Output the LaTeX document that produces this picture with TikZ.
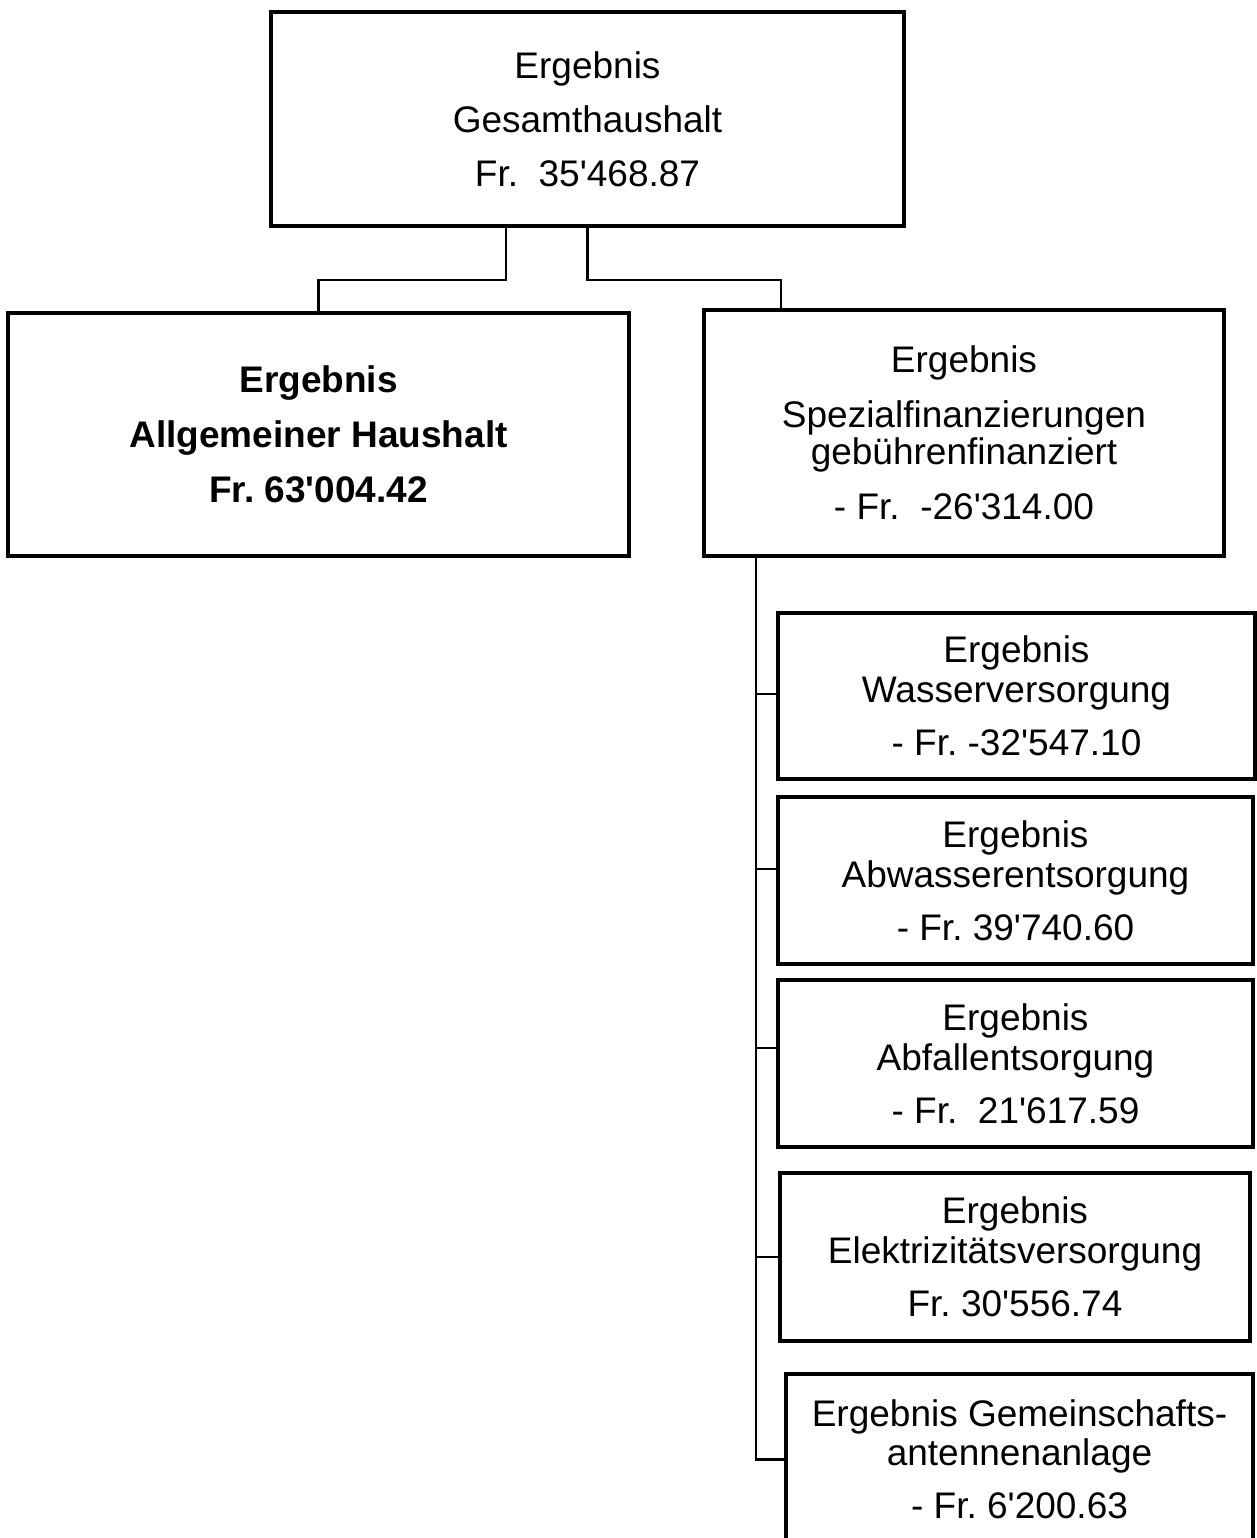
\documentclass[tikz,border=0pt]{standalone}
\usepackage{fontspec}
\setmainfont{Liberation Sans}
\usetikzlibrary{positioning, calc}
\frenchspacing
\tikzset{
  box/.style  = {draw, line width=1.8pt, align=center, inner sep=2pt,
                 font=\fontsize{18.5}{20}\selectfont},
  link/.style = {draw, line width=1.1pt}
}
\newcommand{\ap}{\textquotesingle}

\begin{document}
\begin{tikzpicture}[x=0.5pt, y=-0.5pt]
\useasboundingbox (0,0) rectangle (1257,1538);
\clip (0,0) rectangle (1257,1538);
\node[box, minimum width=316.5pt, minimum height=107pt] (top) at (587.5,119)
  {Ergebnis\\[7pt]Gesamthaushalt\\[7pt]Fr.~~35\ap468.87};
\node[box, minimum width=310.5pt, minimum height=121.5pt, font=\fontsize{18.5}{20}\selectfont\bfseries] (allg) at (318.5,434.5)
  {Ergebnis\\[7.5pt]Allgemeiner Haushalt\\[7.5pt]Fr. 63\ap004.42};
\node[box, minimum width=260pt, minimum height=123pt] (spez) at (964,433)
  {Ergebnis\\[7.5pt]Spezialfinanzierungen\\[-1.5pt]gebührenfinanziert\\[7.5pt]- Fr.~~-26\ap314.00};
% Spezialfinanzierungen
\node[box, minimum width=238.5pt, minimum height=83pt] (wasser) at (1016.5,696)
  {Ergebnis\\Wasserversorgung\\[6.5pt]- Fr. -32\ap547.10};
\node[box, minimum width=237.5pt, minimum height=83.5pt] (abwasser) at (1015.5,880.5)
  {Ergebnis\\Abwasserentsorgung\\[6.5pt]- Fr. 39\ap740.60};
\node[box, minimum width=237.5pt, minimum height=83.5pt] (abfall) at (1015.5,1063.5)
  {Ergebnis\\Abfallentsorgung\\[6.5pt]- Fr.~~21\ap617.59};
\node[box, minimum width=235pt, minimum height=84pt] (elektr) at (1015,1257)
  {Ergebnis\\Elektrizitätsversorgung\\[6.5pt]Fr. 30\ap556.74};
\node[box, minimum width=233.5pt, minimum height=85.5pt] (gemein) at (1019.5,1459.5)
  {Ergebnis Gemeinschafts-\\[-0.5pt]antennenanlage\\[6.5pt]- Fr. 6\ap200.63};
\draw[link] ([xshift=-40.75pt]top.south) -- ++(0,-26pt) -| (allg.north);
\draw[link] (top.south) -- ++(0,-26pt) -| ([xshift=-91.5pt]spez.north);
\coordinate (trunk) at ([xshift=27pt]spez.south west);
\draw[link] (trunk) |- (gemein.west);
\foreach \n/\dy in {wasser/1pt, abwasser/5.75pt, abfall/7.75pt, elektr/0pt}{
  \coordinate (tick) at ([yshift=\dy]\n.west);
  \draw[link] (trunk |- tick) -- (tick);
}
\end{tikzpicture}
\end{document}
